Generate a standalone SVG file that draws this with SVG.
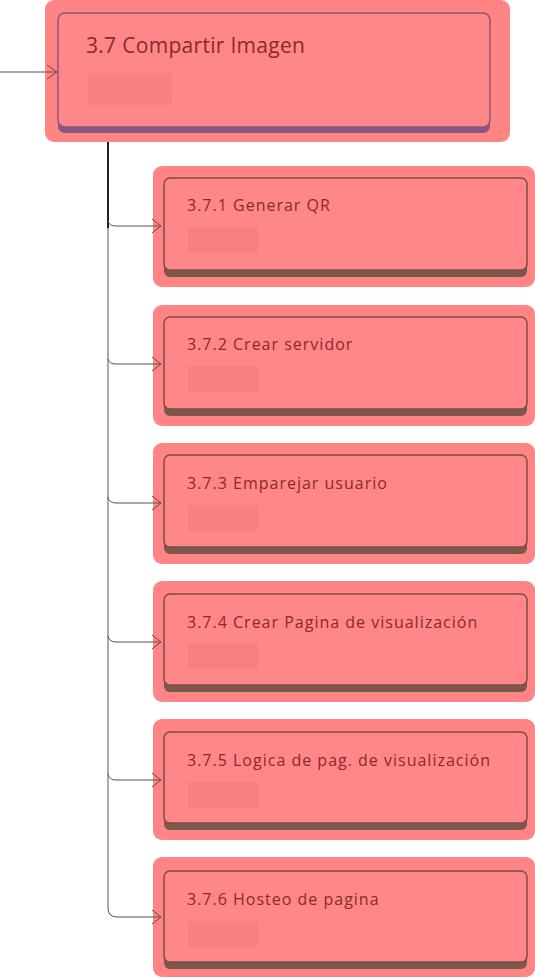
<svg xmlns="http://www.w3.org/2000/svg" width="535" height="978" viewBox="0 0 535 978">
<defs>
<style>
.hl{fill:#ff8585}
.card{fill:#ff8787;stroke:#7d4d48;stroke-width:1.5}
.shadow{fill:#7d564c}
.ph{fill:#fa8080}
.t1{font-family:"Open Sans","Liberation Sans",sans-serif;font-size:21px;fill:#8a2a2a;letter-spacing:0.3px}
.t2{font-family:"Open Sans","Liberation Sans",sans-serif;font-size:16px;fill:#8a2a2a;letter-spacing:1px}
.ln{fill:none;stroke:#555;stroke-width:1}
.arr{fill:none;stroke:#8a3a3a;stroke-width:1}
</style>
</defs>
<rect width="535" height="978" fill="#ffffff"/>
<g id="n37">
<rect class="hl" x="45" y="0" width="465" height="142" rx="9"/>
<rect x="58" y="13" width="432" height="120" rx="7" fill="#8a5580"/>
<rect x="58" y="13" width="432" height="114" rx="7" fill="#ff8787" stroke="#8a5580" stroke-width="1.5"/>
<rect class="ph" x="88" y="73" width="84" height="32"/>
<text class="t1" x="86" y="53">3.7 Compartir Imagen</text>
</g>
<g id="n371">
<rect class="hl" x="153" y="166" width="382" height="121" rx="9"/>
<rect class="shadow" x="164" y="178" width="363" height="99" rx="6"/>
<rect class="card" x="164" y="178" width="363" height="92" rx="6"/>
<rect class="ph" x="188" y="227" width="70" height="26"/>
<text class="t2" x="187" y="211">3.7.1 Generar QR</text>
</g>
<g id="n372">
<rect class="hl" x="153" y="305" width="382" height="121" rx="9"/>
<rect class="shadow" x="164" y="317" width="363" height="99" rx="6"/>
<rect class="card" x="164" y="317" width="363" height="92" rx="6"/>
<rect class="ph" x="188" y="366" width="70" height="26"/>
<text class="t2" x="187" y="350">3.7.2 Crear servidor</text>
</g>
<g id="n373">
<rect class="hl" x="153" y="443" width="382" height="121" rx="9"/>
<rect class="shadow" x="164" y="455" width="363" height="99" rx="6"/>
<rect class="card" x="164" y="455" width="363" height="92" rx="6"/>
<rect class="ph" x="188" y="505" width="70" height="26"/>
<text class="t2" x="187" y="489">3.7.3 Emparejar usuario</text>
</g>
<g id="n374">
<rect class="hl" x="153" y="581" width="382" height="121" rx="9"/>
<rect class="shadow" x="164" y="594" width="363" height="98" rx="6"/>
<rect class="card" x="164" y="594" width="363" height="91" rx="6"/>
<rect class="ph" x="188" y="643" width="70" height="26"/>
<text class="t2" x="187" y="628">3.7.4 Crear Pagina de visualización</text>
</g>
<g id="n375">
<rect class="hl" x="153" y="719" width="382" height="121" rx="9"/>
<rect class="shadow" x="164" y="732" width="363" height="98" rx="6"/>
<rect class="card" x="164" y="732" width="363" height="91" rx="6"/>
<rect class="ph" x="188" y="782" width="70" height="26"/>
<text class="t2" x="187" y="766">3.7.5 Logica de pag. de visualización</text>
</g>
<g id="n376">
<rect class="hl" x="153" y="857" width="382" height="120" rx="9"/>
<rect class="shadow" x="164" y="871" width="363" height="98" rx="6"/>
<rect class="card" x="164" y="871" width="363" height="91" rx="6"/>
<rect class="ph" x="188" y="921" width="70" height="26"/>
<text class="t2" x="187" y="905">3.7.6 Hosteo de pagina</text>
</g>
<g id="connectors">
<path class="ln" d="M0,72 L57,72"/>
<path class="arr" d="M47,65 L57,72 L47,79"/>
<path d="M108,142 L108,228" stroke="#222" stroke-width="2" fill="none"/>
<path class="ln" d="M108,228 L108,908 Q108,917 117,917 L161,917"/>
<path class="ln" d="M108,221 Q109,226 116,226 L161,226"/>
<path class="ln" d="M108,359 Q109,364 116,364 L161,364"/>
<path class="ln" d="M108,497 Q109,503 116,503 L161,503"/>
<path class="ln" d="M108,636 Q109,642 116,642 L161,642"/>
<path class="ln" d="M108,774 Q109,780 116,780 L161,780"/>
<path class="arr" d="M152,219 L161,226 L152,233"/>
<path class="arr" d="M152,357 L161,364 L152,371"/>
<path class="arr" d="M152,496 L161,503 L152,510"/>
<path class="arr" d="M152,635 L161,642 L152,649"/>
<path class="arr" d="M152,773 L161,780 L152,787"/>
<path class="arr" d="M152,910 L161,917 L152,924"/>
</g>
</svg>
